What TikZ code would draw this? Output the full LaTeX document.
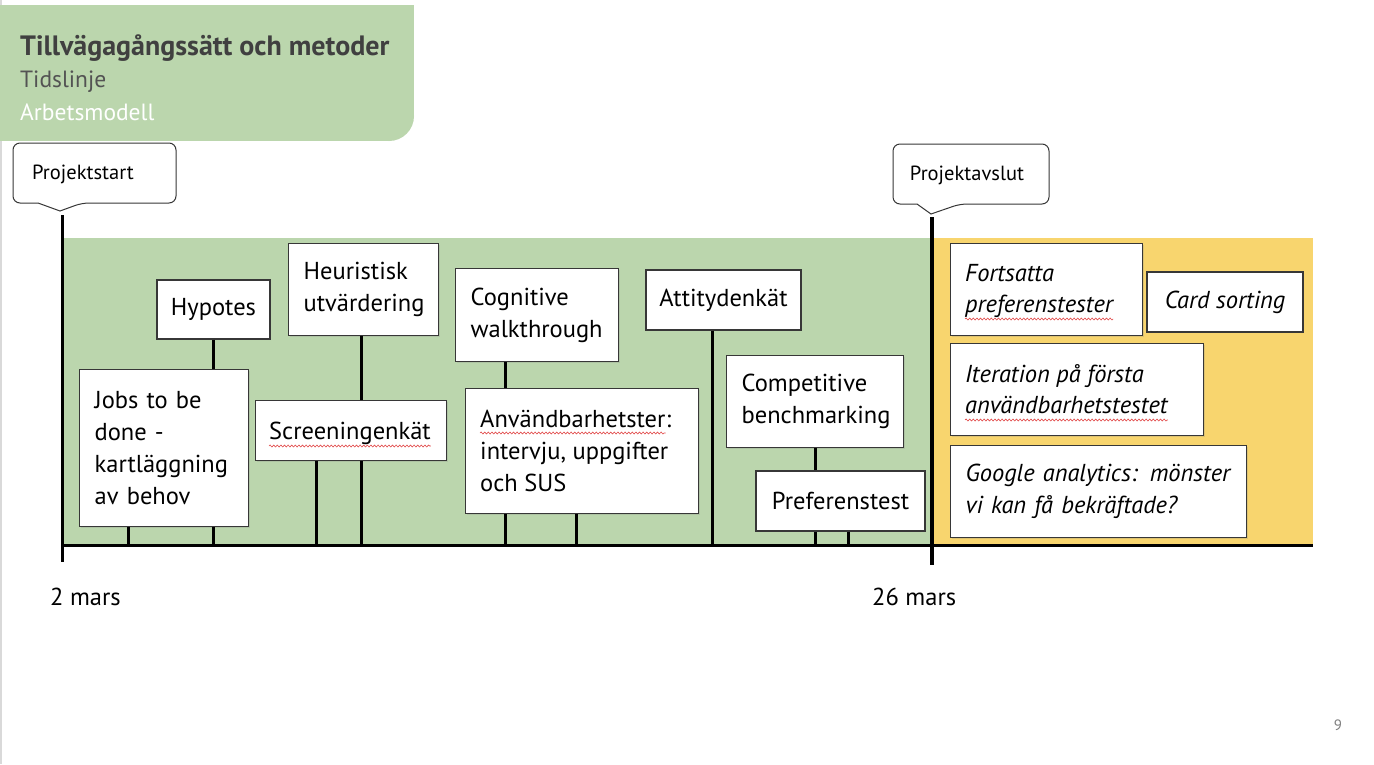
\documentclass[tikz,border=0pt]{standalone}
\usepackage{fontspec}
\setmainfont{PT Sans}
\usetikzlibrary{shadows,decorations.pathmorphing}
\definecolor{grn}{RGB}{187,214,173}
\definecolor{ylw}{RGB}{248,213,110}
\definecolor{bdr}{RGB}{55,55,55}
\definecolor{ttl}{RGB}{64,64,64}
\definecolor{spellred}{RGB}{225,70,70}
\hyphenpenalty=10000
\exhyphenpenalty=10000
\begin{document}
\begin{tikzpicture}[x=1pt,y=-1pt,
 bf/.style={font=\fontsize{24.5}{32}\selectfont},
 ibf/.style={font=\itshape\fontsize{24.5}{32}\selectfont},
 box/.style={draw=bdr, line width=1.3pt, fill=white,
   drop shadow={shadow xshift=1.2pt,shadow yshift=-1.2pt,opacity=0.22},
   bf, inner ysep=0pt},
 lbox/.style={box, anchor=north west, align=left, inner xsep=15pt},
 cbox/.style={box, anchor=center, align=center, inner xsep=0pt},
 ebox/.style={box, anchor=north west, inner sep=0pt},
 tl/.style={anchor=base west, inner sep=0pt, bf},
 itl/.style={anchor=base west, inner sep=0pt, ibf},
 wave/.style={spellred, line width=0.6pt, decorate, decoration={snake, amplitude=1pt, segment length=3.6pt}},
 stem/.style={line width=3pt, black},
 co/.style={draw=bdr, line width=1pt, fill=white},
 cotext/.style={font=\fontsize{20.5}{24}\selectfont, text=black},
 date/.style={font=\fontsize{24.5}{28}\selectfont, anchor=base west, text=black, inner sep=0pt},
]
\useasboundingbox (0,0) rectangle (1374,764);
\fill[white] (0,0) rectangle (1374,764);
\fill[gray!30] (0,0) rectangle (2,764);
% header
\fill[grn] (0,5) rectangle (414,116);
\fill[grn] (0,5) rectangle (389,141);
\fill[grn] (389,116) circle (25);
\node[anchor=base west, inner sep=0pt, text=ttl, font=\bfseries\fontsize{28}{32}\selectfont] (title) at (20,55) {Tillvägagångssätt och metoder};
\node[anchor=base west, inner sep=0pt, text=ttl!90, font=\fontsize{23.5}{28}\selectfont] (sub1) at (20,87) {Tidslinje};
\node[anchor=base west, inner sep=0pt, text=white, font=\fontsize{23.5}{28}\selectfont] (sub2) at (20,120) {Arbetsmodell};
% regions
\fill[grn] (62,238) rectangle (932,545);
\fill[ylw] (932,238) rectangle (1313,545);
% callouts
\path[co, rounded corners=7pt] (38,203) -- (13,203) -- (13,143) -- (176,143) -- (176,203) -- (82,203) [sharp corners] -- (60,211) -- cycle;
\node[cotext] (ps) at (83,174) {Projektstart};
\path[co, rounded corners=7pt] (917,204) -- (893,204) -- (893,144) -- (1049,144) -- (1049,204) -- (960,204) [sharp corners] -- (931,214) -- cycle;
\node[cotext] (pa) at (967,175) {Projektavslut};
% axis and markers
\coordinate (axis) at (0,545);
\coordinate (start) at (62,215);
\coordinate (end) at (932,217);
\draw[line width=3pt] (start) -- (62,562);
\draw[line width=4pt] (end) -- (932,565);
% boxes
\node[cbox, minimum width=113pt, minimum height=59pt] (hyp) at (213.5,309.5) {Hypotes};
\node[lbox, text width=139pt, minimum height=157pt] (jobs) at (79,369) {Jobs to be\\done -\\kartläggning\\av behov};
\node[lbox, text width=120pt, minimum height=92pt] (heur) at (288,243) {Heuristisk\\utvärdering};
\node[ebox, minimum width=191pt, minimum height=60pt] (scr) at (255,400) {};
\node[tl] (scrt) at (269,439) {Screeningenkät};
\node[lbox, text width=133pt, minimum height=93pt] (cog) at (455,268) {Cognitive\\walkthrough};
\node[ebox, minimum width=233pt, minimum height=125pt] (anv) at (465,388) {};
\node[tl] (anv1) at (480,427) {Användbarhetster};
\node[tl] (anv1c) at (anv1.base east) {:};
\node[tl] (anv2) at (480,459) {intervju, uppgifter};
\node[tl] (anv3) at (480,491) {och SUS};
\node[cbox, minimum width=155pt, minimum height=60pt] (att) at (723.5,300) {Attitydenkät};
\node[lbox, text width=147pt, minimum height=92pt] (comp) at (726,355) {Competitive\\benchmarking};
\node[cbox, minimum width=169pt, minimum height=60pt] (pref) at (840.5,501) {Preferenstest};
\node[ebox, minimum width=192pt, minimum height=92pt] (fort) at (950,243) {};
\node[itl] (fort1) at (965,281) {Fortsatta};
\node[itl] (fort2) at (965,312) {preferenstester};
\node[cbox, ibf, minimum width=156pt, minimum height=60pt] (card) at (1225,302) {Card sorting};
\node[ebox, minimum width=253pt, minimum height=92pt] (iter) at (950,343) {};
\node[itl] (iter1) at (965,382) {Iteration på första};
\node[itl] (iter2) at (965,413) {användbarhetstestet};
\node[lbox, ibf, text width=266pt, minimum height=92pt] (goog) at (950,445) {Google analytics: mönster\\vi kan få bekräftade?};
% spelling waves
\draw[wave] ([yshift=-7pt]scrt.base west) -- ([yshift=-7pt]scrt.base east);
\draw[wave] ([yshift=-6pt]anv1.base west) -- ([yshift=-6pt]anv1.base east);
\draw[wave] ([yshift=-7pt]fort2.base west) -- ([yshift=-7pt]fort2.base east);
\draw[wave] ([yshift=-7pt]iter2.base west) -- ([yshift=-7pt]iter2.base east);
% stems
\draw[stem] (hyp.south) -- (hyp.south |- jobs.north);
\draw[stem] (128,0 |- jobs.south) -- (128,0 |- axis);
\draw[stem] (hyp.south |- jobs.south) -- (hyp.south |- axis);
\draw[stem] (361,0 |- heur.south) -- (361,0 |- scr.north);
\draw[stem] (316,0 |- scr.south) -- (316,0 |- axis);
\draw[stem] (361,0 |- scr.south) -- (361,0 |- axis);
\draw[stem] (505,0 |- cog.south) -- (505,0 |- anv.north);
\draw[stem] (505,0 |- anv.south) -- (505,0 |- axis);
\draw[stem] (576,0 |- anv.south) -- (576,0 |- axis);
\draw[stem] (712,0 |- att.south) -- (712,0 |- axis);
\draw[stem] (815,0 |- comp.south) -- (815,0 |- pref.north);
\draw[stem] (815,0 |- pref.south) -- (815,0 |- axis);
\draw[stem] (848,0 |- pref.south) -- (848,0 |- axis);
\draw[line width=3pt] (62,0 |- axis) -- (1313,0 |- axis);
% dates
\node[date] (d1) at (50,605) {2 mars};
\node[date] (d2) at (872,605) {26 mars};
\node[text=gray, font=\fontsize{15}{17}\selectfont] (pg) at (1338,725) {9};
\end{tikzpicture}
\end{document}
